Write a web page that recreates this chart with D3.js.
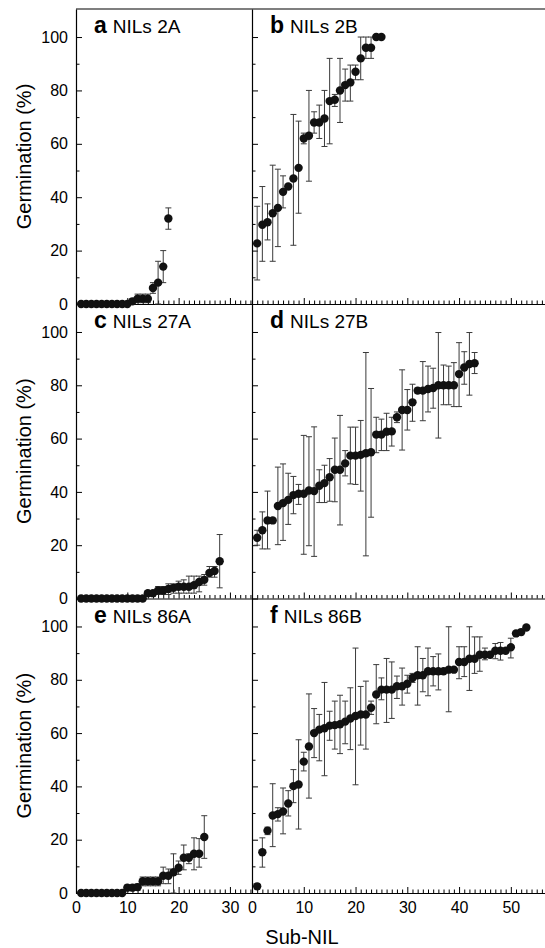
<!DOCTYPE html>
<html>
<head>
<meta charset="utf-8">
<script src="https://cdn.jsdelivr.net/npm/d3@7"></script>
<style>
  body { margin: 0; background: #fff; }
  svg { display: block; font-family: "Liberation Sans", Arial, Helvetica, sans-serif; }
  .axis path, .axis line { stroke: #000; }
  .axis text { font-size: 16px; fill: #000; }
</style>
</head>
<body>
<svg id="chart" width="545" height="948"></svg>
<script>
// panel titles
const panelLetters = ['a', 'b', 'c', 'd', 'e', 'f']
const panelNames = ['NILs 2A', 'NILs 2B', 'NILs 27A', 'NILs 27B', 'NILs 86A', 'NILs 86B']

// a: NILs 2A  (mean, lower end, upper end of error bar)
const aVal = [0, 0, 0, 0, 0, 0, 0, 0, 0, 0, 1, 2, 2, 2, 6, 8, 14, 32]
const aLo  = [0, 0, 0, 0, 0, 0, 0, 0, 0, 0, 0, 0.5, 0.5, 0.5, 4, 0, 8, 28]
const aHi  = [0, 0, 0, 0, 0, 0, 0, 0, 0, 0, 2, 3.7, 3.7, 3.7, 8, 16, 20, 36]

// b: NILs 2B
const bVal = [22.7, 29.7, 30.6, 34, 36, 42, 44, 47, 51, 62, 63, 68, 68, 69.5, 76, 76.5, 80, 82, 83, 87, 92, 96, 96, 100, 100]
const bLo  = [9, 16, 24, 16, 21.5, 36, 44, 22, 34, 60, 46, 64, 62, 59, 60, 74, 68, 76, 76, 84, 84, 92, 92, 100, 100]
const bHi  = [36.6, 44, 37.5, 52, 50.5, 48, 44, 71, 68.5, 64, 80, 72, 74.5, 80, 92, 78.5, 92, 88, 89.5, 89.5, 100, 100, 100, 100, 100]

// c: NILs 27A
const cVal = [0, 0, 0, 0, 0, 0, 0, 0, 0, 0, 0, 0, 0, 2, 2, 3, 3, 3.6, 4, 4.4, 4.4, 4.4, 5, 6.2, 7, 9.6, 10.3, 14]
const cLo  = [0, 0, 0, 0, 0, 0, 0, 0, 0, 0, 0, 0, 0, 1.5, 1.5, 1.5, 1.5, 1.5, 2, 2, 2, 2, 2, 2.5, 5, 8, 8, 4]
const cHi  = [0, 0, 0, 0, 0, 0, 0, 0, 0, 0, 0, 0, 0, 2.5, 2.5, 4.5, 4.5, 5.5, 5.5, 6.5, 7, 8.4, 8.4, 8.4, 9, 12, 12, 24]

// d: NILs 27B
const dVal = [22.8, 25.6, 29.3, 29.3, 34.7, 35.8, 37, 38.8, 39.3, 39.3, 40.5, 40.3, 42.3, 43.3, 45.5, 48.3, 48.3, 50.7, 53.6, 53.6, 53.9, 54.5, 54.9, 61.5, 61.5, 62.6, 62.7, 68, 70.7, 70.7, 73.6, 78, 78, 78.6, 79, 80, 80, 80, 80, 84.2, 86.7, 88, 88.3]
const dLo  = [20, 18.6, 18.6, 29.3, 20.2, 21.8, 27.8, 31.8, 35.3, 16.6, 19.8, 15.8, 36, 36, 36.5, 36.3, 27.6, 46, 43, 42.8, 40.3, 16, 30.5, 54.7, 55.5, 55.5, 57.2, 66, 55.7, 63.2, 66.5, 77, 66.7, 70, 71.4, 60.2, 72.7, 72.7, 72, 72, 80.4, 76.3, 84.4]
const dHi  = [25.6, 32.5, 40.3, 29.3, 49.3, 50.5, 47, 45.8, 42.8, 61.2, 60.7, 64.4, 48.3, 50, 52.5, 60.2, 68.7, 55.5, 64.3, 64.3, 66.8, 92.3, 78.8, 68, 67.3, 69.5, 68, 70, 85.8, 78.4, 80.4, 79, 88.9, 87.2, 86.4, 99.8, 87.6, 87.2, 88.5, 96, 92.6, 99.8, 92.3]

// e: NILs 86A
const eVal = [0, 0, 0, 0, 0, 0, 0, 0, 0, 2, 2, 2.2, 4.4, 4.4, 4.4, 4.4, 6.5, 6.5, 7.8, 9.5, 13.2, 13.2, 14.7, 14.7, 21]
const eLo  = [0, 0, 0, 0, 0, 0, 0, 0, 0, 1, 1, 1, 2.7, 2.7, 2.7, 2.7, 3.5, 3.5, 0, 7, 8.7, 11, 8.7, 9.7, 13]
const eHi  = [0, 0, 0, 0, 0, 0, 0, 0, 0, 3, 3, 3.4, 6, 6, 6, 6, 9.7, 9, 14.7, 12, 18, 14.7, 20.7, 20.4, 29]

// f: NILs 86B
const fVal = [2.5, 15.3, 23.4, 29.1, 29.6, 30.6, 33.6, 40.1, 40.7, 49.3, 55, 60, 61.3, 61.8, 62.8, 63, 63.3, 64.3, 65.5, 66.4, 67, 67, 69.5, 74.5, 76.3, 76.3, 76.3, 77.6, 77.6, 78.5, 80.7, 81.7, 81.7, 83.2, 83.2, 83.2, 83.2, 83.8, 83.8, 86.7, 86.7, 87.9, 87.9, 89.4, 89.4, 89.4, 90.9, 90.9, 90.9, 92.2, 97.4, 97.9, 99.6]
const fLo  = [1.5, 9.7, 21.9, 17.4, 27, 22.2, 28.9, 33.9, 24, 45.8, 35.6, 50.8, 49.6, 44, 57.3, 54, 52.3, 56, 53.8, 40.6, 55.5, 54, 67, 63.5, 72.5, 64, 65.5, 73, 70.5, 75, 79, 70.5, 75.5, 74, 77.7, 76.2, 83.2, 68, 83.8, 80.4, 81.2, 76, 82.4, 83.2, 87.5, 89.4, 87.9, 87.4, 90.9, 88.2, 97.4, 96.9, 99.6]
const fHi  = [3.2, 20.7, 24.7, 41, 32, 39.4, 38.4, 46.3, 57.5, 52.8, 74.7, 69.2, 67, 79, 68.2, 72, 74.2, 72, 77, 91.9, 77.5, 79.5, 72, 85.7, 80.7, 88, 86.7, 81.4, 84.4, 81.7, 82.4, 92.4, 88, 91.9, 88.7, 89.7, 83.2, 99.9, 83.8, 92.4, 92.4, 99.9, 96.1, 96.1, 91.9, 89.4, 93.6, 94, 90.9, 95.6, 97.4, 98.9, 99.6]

const panelVals = [aVal, bVal, cVal, dVal, eVal, fVal]
const panelLo = [aLo, bLo, cLo, dLo, eLo, fLo]
const panelHi = [aHi, bHi, cHi, dHi, eHi, fHi]

const leftTicks = [0, 10, 20, 30]
const rightTicks = [0, 10, 20, 30, 40, 50]
const yTicks = [0, 20, 40, 60, 80, 100]

// layout
const colX = [[76, 252], [252, 545]]
const colMax = [34.3, 56.6]
const rowTop = [9, 304, 598.5]
const rowBot = [304, 598.5, 893]
const yMax = 110.5

const svg = d3.select('#chart')

// top border
svg.append('line')
  .attr('x1', colX[0][0]).attr('x2', 545)
  .attr('y1', rowTop[0]).attr('y2', rowTop[0])
  .attr('stroke', '#000').attr('stroke-width', 1.2)

panelVals.forEach((vals, p) => {
  const col = p % 2
  const row = Math.floor(p / 2)
  const lo = panelLo[p]
  const hi = panelHi[p]

  const x = d3.scaleLinear().domain([0, colMax[col]]).range(colX[col])
  const y = d3.scaleLinear().domain([0, yMax]).range([rowBot[row], rowTop[row]])

  const g = svg.append('g')

  // x minor ticks
  const minor = d3.range(1, Math.floor(colMax[col]) + 1).filter(d => d % 10 !== 0)
  g.append('g')
    .attr('class', 'axis')
    .attr('transform', `translate(0,${rowBot[row]})`)
    .call(d3.axisBottom(x).tickValues(minor).tickSize(-3.5).tickFormat('').tickSizeOuter(0))
    .call(s => s.select('.domain').remove())

  // x major ticks (+ labels on bottom row)
  const major = col === 0 ? leftTicks : rightTicks
  const xAxis = g.append('g')
    .attr('class', 'axis x')
    .attr('transform', `translate(0,${rowBot[row]})`)
    .call(d3.axisBottom(x).tickValues(major).tickSize(-6).tickPadding(9).tickSizeOuter(0))
  xAxis.select('.domain').attr('stroke-width', 1.2)
  if (row < 2) xAxis.selectAll('text').remove()

  // y ticks
  const yMinor = [10, 30, 50, 70, 90]
  g.append('g')
    .attr('class', 'axis')
    .attr('transform', `translate(${colX[col][0]},0)`)
    .call(d3.axisLeft(y).tickValues(yMinor).tickSize(-3.5).tickFormat('').tickSizeOuter(0))
    .call(s => s.select('.domain').remove())
  const yAxis = g.append('g')
    .attr('class', 'axis y')
    .attr('transform', `translate(${colX[col][0]},0)`)
    .call(d3.axisLeft(y).tickValues(yTicks).tickSize(-6).tickPadding(8).tickSizeOuter(0))
  yAxis.select('.domain').attr('stroke-width', 1.2)
  if (col === 1) yAxis.selectAll('text').remove()

  // error bars
  const data = vals.map((v, i) => ({ n: i + 1, v: v, lo: lo[i], hi: hi[i] }))
  const bars = g.append('g').attr('stroke', '#3a3a3a').attr('stroke-width', 1)
    .selectAll('g').data(data.filter(d => d.hi - d.lo > 0.3)).join('g')
  bars.append('line')
    .attr('x1', d => x(d.n)).attr('x2', d => x(d.n))
    .attr('y1', d => y(d.lo)).attr('y2', d => y(d.hi))
  bars.append('line')
    .attr('x1', d => x(d.n) - 3).attr('x2', d => x(d.n) + 3)
    .attr('y1', d => y(d.hi)).attr('y2', d => y(d.hi))
  bars.append('line')
    .attr('x1', d => x(d.n) - 3).attr('x2', d => x(d.n) + 3)
    .attr('y1', d => y(d.lo)).attr('y2', d => y(d.lo))

  // points
  g.append('g').selectAll('circle').data(data).join('circle')
    .attr('cx', d => x(d.n))
    .attr('cy', d => y(d.v))
    .attr('r', 4.2)
    .attr('fill', '#111')

  // panel title
  const t = g.append('text')
    .attr('x', colX[col][0] + 18)
    .attr('y', rowTop[row] + 24)
    .attr('fill', '#000')
  t.append('tspan').attr('font-weight', 'bold').attr('font-size', 23).text(panelLetters[p])
  t.append('tspan').attr('font-size', 19).attr('dx', 6).text(panelNames[p])

  // y label
  if (col === 0) {
    const cy = (rowTop[row] + rowBot[row]) / 2
    g.append('text')
      .attr('transform', `translate(31,${cy}) rotate(-90)`)
      .attr('text-anchor', 'middle')
      .attr('font-size', 20)
      .text('Germination (%)')
  }
})

svg.append('text')
  .attr('x', 302)
  .attr('y', 944)
  .attr('text-anchor', 'middle')
  .attr('font-size', 20)
  .text('Sub-NIL')
</script>
</body>
</html>
